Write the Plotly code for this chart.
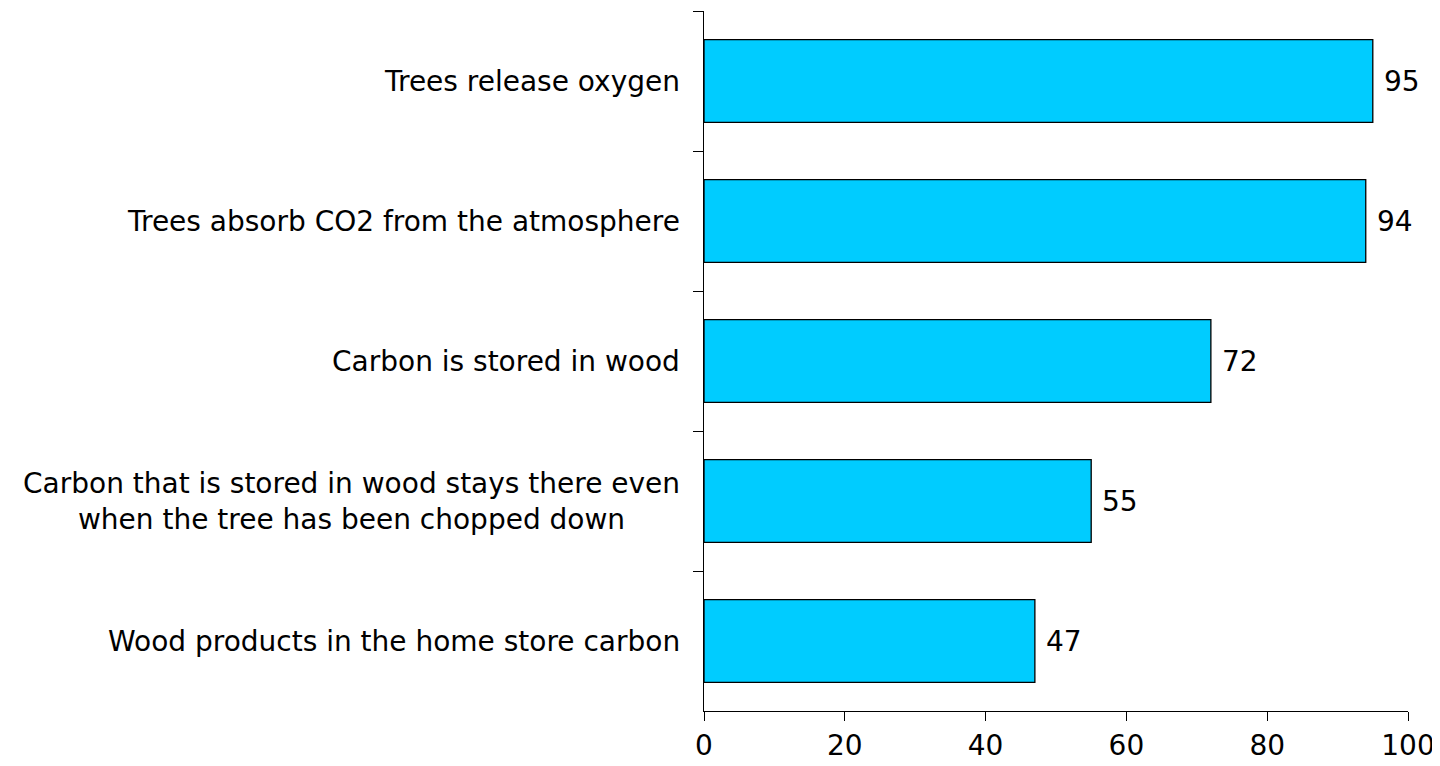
import plotly.graph_objects as go

# Survey statements (top to bottom) and share agreeing (%)
statements = [
    'Trees release oxygen',
    'Trees absorb CO2 from the atmosphere',
    'Carbon is stored in wood',
    'Carbon that is stored in wood stays there even<br>when the tree has been chopped down',
    'Wood products in the home store carbon',
]
values = [95, 94, 72, 55, 47]
x_ticks = [0, 20, 40, 60, 80, 100]

FONT = 'DejaVu Sans'
FONT_SIZE = 28
BAR_COLOR = '#00CCFF'

fig = go.Figure()
fig.add_trace(go.Bar(
    x=values,
    y=statements,
    orientation='h',
    width=0.59,
    marker=dict(color=BAR_COLOR, line=dict(color='#000000', width=1.3)),
    hoverinfo='x+y',
))

# Value labels at the end of each bar
for s, v in zip(statements, values):
    fig.add_annotation(
        x=v, y=s, xref='x', yref='y',
        text=str(v), showarrow=False,
        xanchor='left', xshift=9,
        font=dict(family=FONT, size=FONT_SIZE, color='#000000'),
    )

# Category labels, centred multi-line text right-aligned to the axis
for s in statements:
    fig.add_annotation(
        x=0, y=s, xref='paper', yref='y',
        text=s, showarrow=False,
        xanchor='right', xshift=-22, align='center',
        font=dict(family=FONT, size=FONT_SIZE, color='#000000'),
    )

# page body has an 8px margin, so the figure is offset by (8, 8)
fig.update_layout(
    width=1432, height=758,
    margin=dict(l=696, r=32, t=3, b=55),
    paper_bgcolor='white', plot_bgcolor='white',
    showlegend=False,
    font=dict(family=FONT, size=FONT_SIZE, color='#000000'),
    xaxis=dict(
        range=[0, 100], tickvals=x_ticks,
        showgrid=False, zeroline=False,
        showline=True, linecolor='#000000', linewidth=1.3,
        ticks='outside', ticklen=9, tickwidth=1.3, tickcolor='#000000',
        tickfont=dict(family=FONT, size=FONT_SIZE),
    ),
    yaxis=dict(
        autorange='reversed',
        showgrid=False, zeroline=False,
        showline=True, linecolor='#000000', linewidth=1.3,
        ticks='outside', tickson='boundaries', ticklen=10,
        tickwidth=1.3, tickcolor='#000000',
        showticklabels=False,
    ),
)

fig.write_html('out.html')
